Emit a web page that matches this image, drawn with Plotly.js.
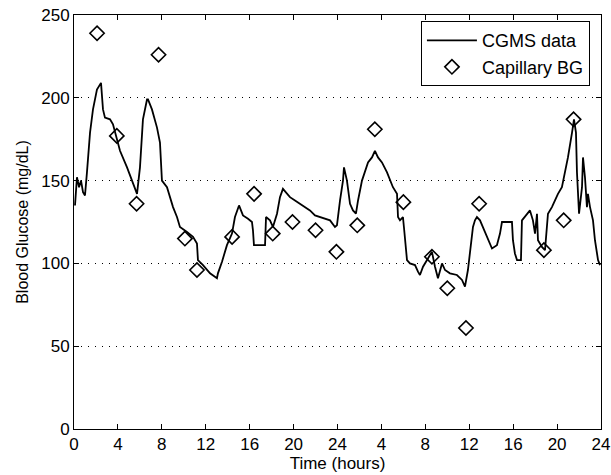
<!DOCTYPE html>
<html>
<head>
<meta charset="utf-8">
<script src="https://cdn.plot.ly/plotly-3.0.1.min.js"></script>
<style>html,body{margin:0;padding:0;background:#fff;}#chart{width:611px;height:475px;}</style>
</head>
<body>
<div id="chart"></div>
<script>
// CGMS sensor trace (hours since start, mg/dL)
const cgmsTime = [0.09,0.27,0.46,0.64,0.82,1.0,1.18,1.46,1.73,2.09,2.46,2.64,2.82,3.28,3.55,3.92,4.19,4.83,5.28,5.56,5.74,6.01,6.28,6.65,6.74,7.10,7.56,7.83,8.01,8.47,8.74,9.02,9.38,9.65,10.29,10.84,11.2,11.29,11.75,12.39,13.02,13.11,13.48,13.93,14.39,14.66,15.03,15.39,15.85,16.21,16.30,16.39,17.40,17.49,17.85,18.12,18.49,18.76,19.03,19.40,19.67,20.13,20.58,21.04,21.49,21.95,22.40,22.86,23.32,23.77,23.95,24.23,24.50,24.59,24.86,25.14,25.41,25.68,25.87,26.23,26.50,26.78,27.14,27.41,27.69,28.05,28.51,28.78,29.05,29.42,29.51,29.69,29.96,30.05,30.15,30.33,30.60,31.06,31.33,31.51,31.79,32.24,32.60,32.88,33.15,33.52,33.79,34.24,34.88,35.34,35.61,35.88,36.16,36.34,36.52,36.70,36.98,37.25,37.61,38.07,38.52,38.80,38.98,39.44,39.89,39.98,40.16,40.35,40.62,40.71,40.80,41.26,41.53,41.80,41.99,42.17,42.26,42.62,42.90,43.17,43.53,43.81,44.08,44.44,44.72,44.99,45.36,45.54,45.72,45.81,46.00,46.27,46.36,46.54,46.72,46.81,47.00,47.27,47.45,47.73,47.91];
const cgmsValue = [135,152,146,150,143,141,155,179,193,205,209,193,188,187,184,175,168,158,150,146,142,158,187,199,199,193,182,173,150,146,140,134,128,122,119,116,112,102,99,94,91,94,101,111,118,128,135,129,127,125,120,111,111,128,126,122,130,140,145,142,140,138,136,134,132,129,128,127,126,122,123,138,150,158,150,136,132,130,138,150,155,161,164,168,164,161,155,150,146,142,128,126,128,122,114,102,100,99,95,93,98,103,107,98,91,100,96,94,93,90,86,96,112,122,126,128,126,122,116,109,111,118,125,125,125,114,106,102,102,102,126,130,132,126,118,130,114,110,108,130,134,138,142,146,155,164,179,187,179,155,130,146,164,152,134,142,134,126,114,102,99];

// Capillary (finger-stick) BG measurements
const bgTime = [2.1,3.9,5.7,7.7,10.1,11.2,14.4,16.4,18.1,19.9,22.0,23.9,25.8,27.4,30.0,32.6,34.0,35.7,36.9,42.8,44.6,45.5];
const bgValue = [239,177,136,226,115,96,116,142,118,125,120,107,123,181,137,104,85,61,136,108,126,187];

// Axis ticks
const xTickVals = [0,4,8,12,16,20,24,28,32,36,40,44,48];
const xTickText = ['0','4','8','12','16','20','24','4','8','12','16','20','24'];
const yTickVals = [0,50,100,150,200,250];

const FONT = 'Liberation Sans, Arial, Helvetica, sans-serif';

const traces = [
  {
    x: cgmsTime, y: cgmsValue, type: 'scatter', mode: 'lines',
    name: 'CGMS data',
    line: {color: '#000', width: 1.8}
  },
  {
    x: bgTime, y: bgValue, type: 'scatter', mode: 'markers',
    name: 'Capillary BG',
    marker: {symbol: 'diamond-open', size: 11, color: '#000', line: {color: '#000', width: 1.6}}
  }
];

const layout = {
  width: 611, height: 475,
  margin: {l: 74, r: 10, t: 15, b: 46},
  paper_bgcolor: '#fff', plot_bgcolor: '#fff',
  font: {family: FONT, size: 17, color: '#000'},
  showlegend: true,
  legend: {
    x: 0.979, y: 0.985, xanchor: 'right', yanchor: 'top',
    bgcolor: '#fff', bordercolor: '#000', borderwidth: 1,
    font: {family: FONT, size: 18, color: '#000'},
    itemwidth: 50,
    tracegroupgap: 0
  },
  xaxis: {
    range: [0, 48],
    tickmode: 'array', tickvals: xTickVals, ticktext: xTickText,
    ticks: 'inside', ticklen: 5, tickwidth: 1, tickcolor: '#000',
    showline: true, linecolor: '#000', linewidth: 1, mirror: 'ticks',
    showgrid: false, zeroline: false,
    tickfont: {family: FONT, size: 17, color: '#000'},
    title: {text: 'Time (hours)', font: {family: FONT, size: 17, color: '#000'}, standoff: 3}
  },
  yaxis: {
    range: [0, 250],
    tickmode: 'array', tickvals: yTickVals,
    ticks: 'inside', ticklen: 5, tickwidth: 1, tickcolor: '#000',
    showline: true, linecolor: '#000', linewidth: 1, mirror: 'ticks',
    showgrid: true, gridcolor: '#000', gridwidth: 1, griddash: '1px,6px',
    zeroline: false,
    tickfont: {family: FONT, size: 17, color: '#000'},
    title: {text: 'Blood Glucose (mg/dL)', font: {family: FONT, size: 16, color: '#000'}, standoff: 8}
  }
};

Plotly.newPlot('chart', traces, layout, {displayModeBar: false, staticPlot: true});
</script>
</body>
</html>
